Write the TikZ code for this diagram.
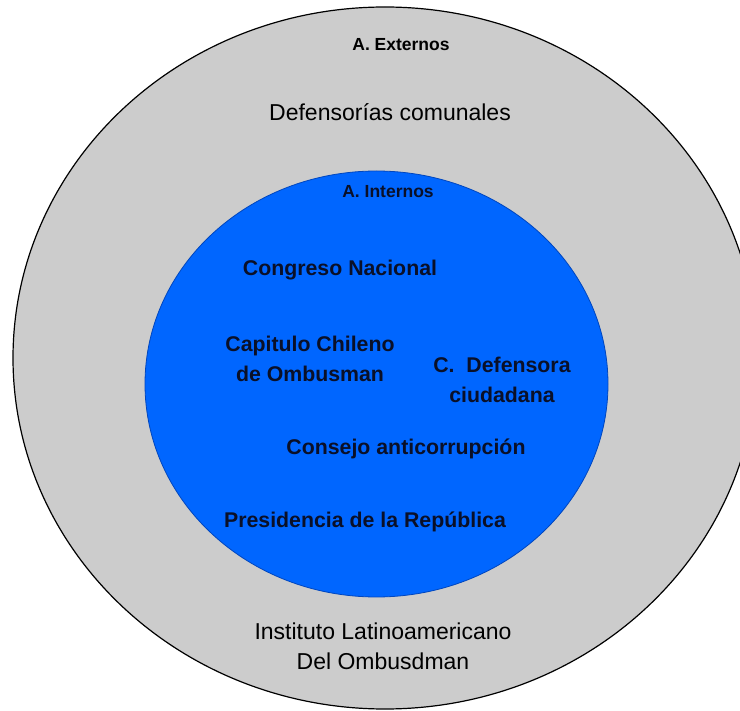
\documentclass[tikz,border=0pt]{standalone}
\usepackage{fontspec}
\setmainfont{Liberation Sans}
\definecolor{ringgray}{RGB}{204,204,204}
\definecolor{coreblue}{RGB}{0,102,255}
\definecolor{coreedge}{RGB}{0,70,190}
\definecolor{inktext}{RGB}{10,16,40}
\begin{document}
\begin{tikzpicture}[x=1pt,y=-1pt,
  big/.style={font=\fontsize{23}{30}\selectfont, align=center, inner sep=0pt},
  bigb/.style={font=\bfseries\fontsize{21.3}{30}\selectfont, align=center, inner sep=0pt, text=inktext},
  small/.style={font=\bfseries\fontsize{17.5}{20}\selectfont, align=center, inner sep=0pt}]
\useasboundingbox (0,0) rectangle (740,711);
\clip (0,0) rectangle (740,711);
\fill[white] (0,0) rectangle (740,711);
\draw[fill=ringgray, draw=black, line width=1.2pt] (385,358) ellipse [x radius=372, y radius=351];
\draw[fill=coreblue, draw=coreedge, line width=0.8pt] (376.5,384) ellipse [x radius=231.5, y radius=213];
\node[small] (ext) at (401,45) {A. Externos};
\node[big] (defcom) at (390,112) {Defensorías comunales};
\node[small, text=inktext] (int) at (388,192) {A. Internos};
\node[bigb] (cong) at (340,270) {Congreso Nacional};
\node[bigb] (cap) at (310,359) {Capitulo Chileno\\de Ombusman};
\node[bigb] (cdef) at (502,380) {C.\ \ Defensora\\ciudadana};
\node[bigb] (cons) at (406,449) {Consejo anticorrupción};
\node[bigb] (pres) at (365,522) {Presidencia de la República};
\node[big] (inst) at (383,646) {Instituto Latinoamericano\\Del Ombusdman};
\end{tikzpicture}
\end{document}
